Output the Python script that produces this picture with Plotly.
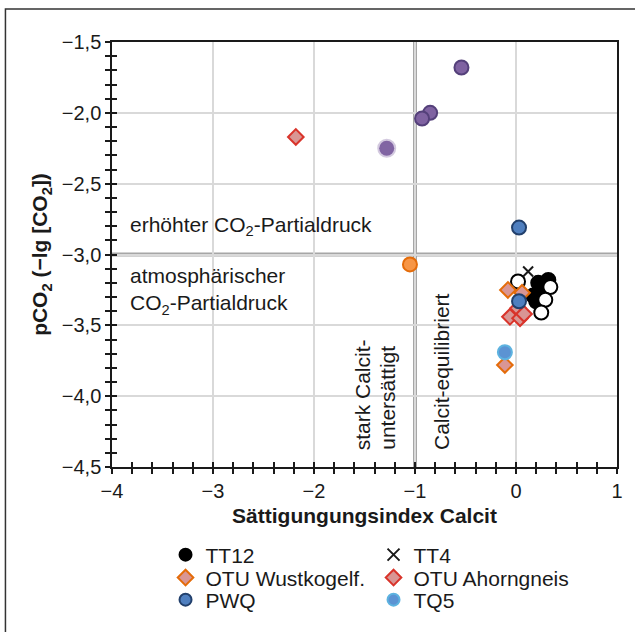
import plotly.graph_objects as go

# Sättigungsindex Calcit (SI) und pCO2 (-lg [CO2]) der Wasserproben
tt12_si = [0.22, 0.32, 0.17, 0.20, 0.27]
tt12_pco2 = [-3.20, -3.18, -3.29, -3.33, -3.25]

tt12_open_si = [0.02, 0.34, 0.29, 0.25]
tt12_open_pco2 = [-3.19, -3.23, -3.32, -3.41]

tt4_si = [0.12]
tt4_pco2 = [-3.12]

wust_si = [-0.08, 0.06, -0.11]
wust_pco2 = [-3.25, -3.27, -3.78]

ahorn_si = [-2.18, -0.06, 0.02, 0.04, 0.08]
ahorn_pco2 = [-2.17, -3.44, -3.38, -3.45, -3.42]

pwq_si = [0.03, 0.03]
pwq_pco2 = [-2.81, -3.33]

tq5_si = [-0.11]
tq5_pco2 = [-3.69]

purple_si = [-0.54, -0.85, -0.93]
purple_pco2 = [-1.68, -2.00, -2.04]

purple_light_si = [-1.28]
purple_light_pco2 = [-2.25]

orange_si = [-1.05]
orange_pco2 = [-3.07]

# Grenzlinien
SI_LIMIT = -1.0
PCO2_ATM = -3.0

X_RANGE = [-4, 1]
Y_RANGE = [-4.5, -1.5]

FONT = "Liberation Sans, Arial, sans-serif"
INK = "#1a1a1a"

fig = go.Figure()


def circle(x, y, fill, line, name=None, legend=None, size=14, lw=2, show=True):
    fig.add_trace(go.Scatter(
        x=x, y=y, mode="markers", name=name,
        showlegend=show and name is not None, legend=legend,
        marker=dict(symbol="circle", size=size, color=fill,
                    line=dict(color=line, width=lw)),
        hoverinfo="skip"))


def diamond(x, y, fill, line, name, legend):
    fig.add_trace(go.Scatter(
        x=x, y=y, mode="markers", name=name, legend=legend,
        marker=dict(symbol="diamond", size=12, color=fill,
                    line=dict(color=line, width=2)),
        hoverinfo="skip"))


circle(purple_si, purple_pco2, "#7f62a1", "#54407a", show=False)
circle(purple_light_si, purple_light_pco2, "#8165a3", "rgba(128,100,162,0.35)",
       size=15, lw=4, show=False)
circle(orange_si, orange_pco2, "#f79646", "#e46c0a", show=False)
circle(tt12_si, tt12_pco2, "#000000", "#000000", name="TT12", legend="legend")
circle(tt12_open_si, tt12_open_pco2, "#ffffff", "#000000", show=False)
fig.add_trace(go.Scatter(
    x=tt4_si, y=tt4_pco2, mode="markers", name="TT4", legend="legend",
    marker=dict(symbol="x-thin", size=10, color=INK,
                line=dict(color=INK, width=2)),
    hoverinfo="skip"))
diamond(wust_si, wust_pco2, "#d99694", "#e46c0a", "OTU Wustkogelf.", "legend2")
diamond(ahorn_si, ahorn_pco2, "#d99694", "#d9342b", "OTU Ahorngneis", "legend2")
circle(pwq_si, pwq_pco2, "#4f7fbf", "#22406c", name="PWQ", legend="legend3")
circle(tq5_si, tq5_pco2, "#5b93d3", "#5db3e0", name="TQ5", legend="legend3")

# leere Spuren für die überlagerten Achsen (Ticks nach innen)
fig.add_trace(go.Scatter(x=[], y=[], xaxis="x2", yaxis="y", showlegend=False))
fig.add_trace(go.Scatter(x=[], y=[], xaxis="x", yaxis="y2", showlegend=False))

tick_font = dict(family=FONT, size=20, color=INK)
title_font = dict(family=FONT, size=21, color=INK)

common_axis = dict(zeroline=False, tickcolor=INK, tickwidth=1.5, ticklen=5)

fig.update_layout(
    width=635, height=632,
    margin=dict(l=112, r=16, t=42, b=165),
    paper_bgcolor="white", plot_bgcolor="white",
    separators=",.",
    font=dict(family=FONT, color=INK),
    xaxis=dict(
        range=X_RANGE, dtick=1, tick0=0, ticks="outside",
        minor=dict(dtick=0.2, ticks="outside", ticklen=5, tickwidth=1.5,
                   tickcolor=INK, showgrid=False),
        showgrid=True, gridcolor="#d9d9d9", gridwidth=2,
        showline=True, linecolor=INK, linewidth=1.5, mirror=True,
        tickfont=tick_font,
        title=dict(text="<b>Sättigungungsindex Calcit</b>", font=title_font, standoff=8),
        **common_axis),
    yaxis=dict(
        range=Y_RANGE, dtick=0.5, tick0=0, ticks="outside", tickformat=".1f",
        minor=dict(dtick=0.1, ticks="outside", ticklen=5, tickwidth=1.5,
                   tickcolor=INK, showgrid=False),
        showgrid=True, gridcolor="#d9d9d9", gridwidth=2,
        showline=True, linecolor=INK, linewidth=1.5, mirror=True,
        tickfont=tick_font,
        title=dict(text="<b>pCO<sub>2</sub> (−lg [CO<sub>2</sub>])</b>",
                   font=title_font, standoff=8),
        **common_axis),
    xaxis2=dict(
        overlaying="x", anchor="y", side="bottom", range=X_RANGE, dtick=1, tick0=0,
        ticks="inside", showticklabels=False, showgrid=False, showline=False,
        minor=dict(dtick=0.2, ticks="inside", ticklen=5, tickwidth=1.5,
                   tickcolor=INK, showgrid=False),
        **common_axis),
    yaxis2=dict(
        overlaying="y", anchor="x", side="left", range=Y_RANGE, dtick=0.5, tick0=0,
        ticks="inside", showticklabels=False, showgrid=False, showline=False,
        minor=dict(dtick=0.1, ticks="inside", ticklen=5, tickwidth=1.5,
                   tickcolor=INK, showgrid=False),
        **common_axis),
)

legend_style = dict(
    orientation="h", xanchor="left", yanchor="middle", x=0.106,
    entrywidth=163, entrywidthmode="pixels", itemsizing="constant",
    font=dict(family=FONT, size=21, color=INK),
    bgcolor="rgba(0,0,0,0)", borderwidth=0, traceorder="normal")
fig.update_layout(
    legend=dict(legend_style, y=-0.207),
    legend2=dict(legend_style, y=-0.261),
    legend3=dict(legend_style, y=-0.313),
)

# Grenzlinien: SI = -1 und atmosphärischer pCO2
fig.add_shape(type="line", xref="x", yref="y domain", x0=SI_LIMIT, x1=SI_LIMIT,
              y0=0, y1=1, line=dict(color="#a6a6a6", width=4), layer="below")
fig.add_shape(type="line", xref="x domain", yref="y", x0=0, x1=1,
              y0=PCO2_ATM, y1=PCO2_ATM, line=dict(color="#a6a6a6", width=4), layer="below")

# Rahmen um die gesamte Abbildung
fig.add_shape(type="rect", xref="paper", yref="paper", x0=-0.211, x1=1.06,
              y0=-0.43, y1=1.0776, line=dict(color="#333333", width=1.5),
              fillcolor="rgba(0,0,0,0)", layer="below")

label_font = dict(family=FONT, size=21, color=INK)
fig.add_annotation(x=-3.84, y=-2.80, text="erhöhter CO<sub>2</sub>-Partialdruck",
                   xanchor="left", yanchor="middle", showarrow=False, font=label_font)
fig.add_annotation(x=-3.84, y=-3.255, text="atmosphärischer<br>CO<sub>2</sub>-Partialdruck",
                   xanchor="left", yanchor="middle", align="left", showarrow=False,
                   font=label_font)
fig.add_annotation(x=-1.525, y=-4.393, text="stark Calcit-", textangle=-90,
                   xanchor="center", yanchor="bottom", showarrow=False, font=label_font)
fig.add_annotation(x=-1.268, y=-4.393, text="untersättigt", textangle=-90,
                   xanchor="center", yanchor="bottom", showarrow=False, font=label_font)
fig.add_annotation(x=-0.736, y=-4.393, text="Calcit-equilibriert", textangle=-90,
                   xanchor="center", yanchor="bottom", showarrow=False, font=label_font)

fig.write_html("out.html")
